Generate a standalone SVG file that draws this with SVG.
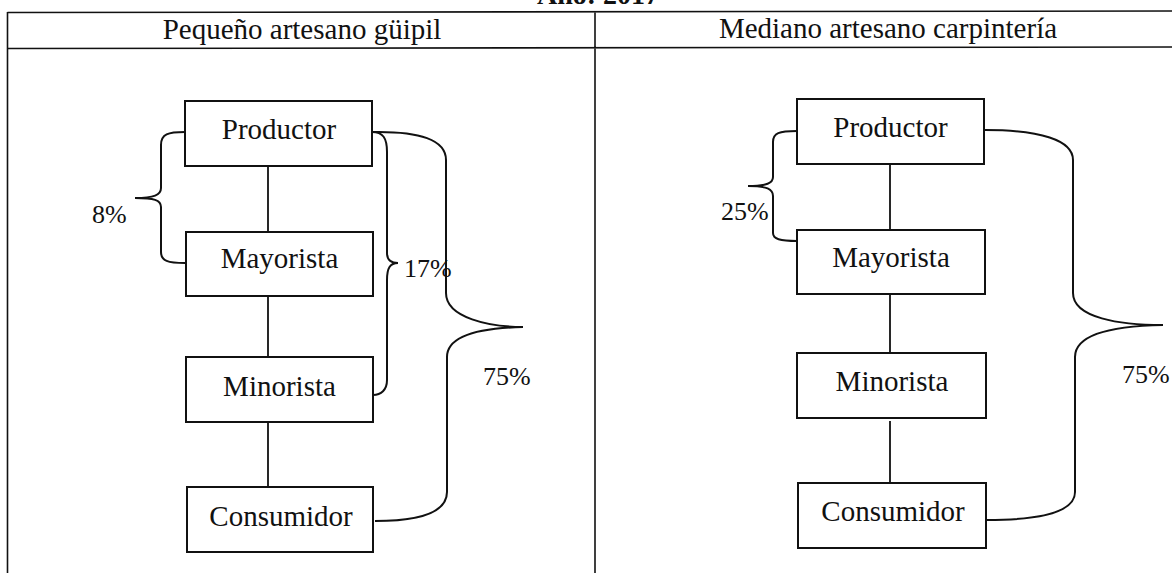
<svg xmlns="http://www.w3.org/2000/svg" width="1172" height="573" viewBox="0 0 1172 573">
<style>
.tbl{stroke:#111;stroke-width:1.6;fill:none}
.box{fill:#fff;stroke:#111;stroke-width:2}
.ln{stroke:#111;stroke-width:1.8;fill:none}
.br{stroke:#111;stroke-width:2;fill:none}
text{font-family:"Liberation Serif","Times New Roman",serif;fill:#111}
.nt{font-size:29px;text-anchor:middle}
.hd{font-size:29px;text-anchor:middle}
.pc{font-size:26px}
.ti{font-size:28px;font-weight:bold}
</style>
<rect width="1172" height="573" fill="#fff"/>
<text class="ti" x="537" y="4">Año: 2017</text>
<g id="table">
<path class="tbl" d="M7.5,12.5 L1172,11 M7.5,48.5 L1172,47 M7.5,12 L7.5,573 M595,12 L595,573"/>
<text class="hd" x="302" y="39">Pequeño artesano güipil</text>
<text class="hd" x="888" y="38">Mediano artesano carpintería</text>
</g>
<g id="connectors">
<path class="ln" d="M268,166 V232 M268,296 V357 M268,422 V487"/>
<path class="ln" d="M890,164 V230 M890,294 V353 M890,421 V483"/>
<path class="br" d="M185,132 C168,132 161,134 161,145 L161,188 C161,195 154,198 135,198 C154,198 161,200 161,207 L161,252 C161,261 168,263 185,263"/>
<path class="br" d="M372,132 C383,132 387,138 387,152 L387,253 C387,259 390,263 398,263 C390,263 387,268 387,280 L387,380 C387,390 381,395 373,395"/>
<path class="br" d="M372,132 C420,131 446,140 446,160 L446,293 C446,318 490,327 523,327 C480,328 447,335 447,357 L447,492 C447,512 420,521 375,521"/>
<path class="br" d="M797,131 C779,131 773,133 773,142 L773,177 C773,183 767,186 748,186 C767,186 773,189 773,196 L773,233 C773,239 780,241 797,241"/>
<path class="br" d="M985,130 C1040,130 1073,140 1073,160 L1073,293 C1073,318 1120,325 1163,325 C1110,326 1075,335 1075,357 L1075,492 C1075,512 1040,520 987,520"/>
</g>
<g id="n-productor-l"><rect class="box" x="185" y="101" width="187" height="65"/><text class="nt" x="279" y="139">Productor</text></g>
<g id="n-mayorista-l"><rect class="box" x="186" y="232" width="187" height="64"/><text class="nt" x="279.5" y="268">Mayorista</text></g>
<g id="n-minorista-l"><rect class="box" x="186" y="357" width="187" height="65"/><text class="nt" x="279.5" y="396">Minorista</text></g>
<g id="n-consumidor-l"><rect class="box" x="187" y="487" width="186" height="65"/><text class="nt" x="281" y="526">Consumidor</text></g>
<g id="n-productor-r"><rect class="box" x="797" y="99" width="187" height="65"/><text class="nt" x="890.5" y="137">Productor</text></g>
<g id="n-mayorista-r"><rect class="box" x="797" y="230" width="188" height="64"/><text class="nt" x="891" y="267">Mayorista</text></g>
<g id="n-minorista-r"><rect class="box" x="797" y="353" width="189" height="65"/><text class="nt" x="892" y="391">Minorista</text></g>
<g id="n-consumidor-r"><rect class="box" x="798" y="483" width="188" height="65"/><text class="nt" x="893" y="521">Consumidor</text></g>
<g id="labels">
<text class="pc" x="92" y="223">8%</text>
<text class="pc" x="404" y="277">17%</text>
<text class="pc" x="483" y="385">75%</text>
<text class="pc" x="721" y="220">25%</text>
<text class="pc" x="1122" y="383">75%</text>
</g>
</svg>
